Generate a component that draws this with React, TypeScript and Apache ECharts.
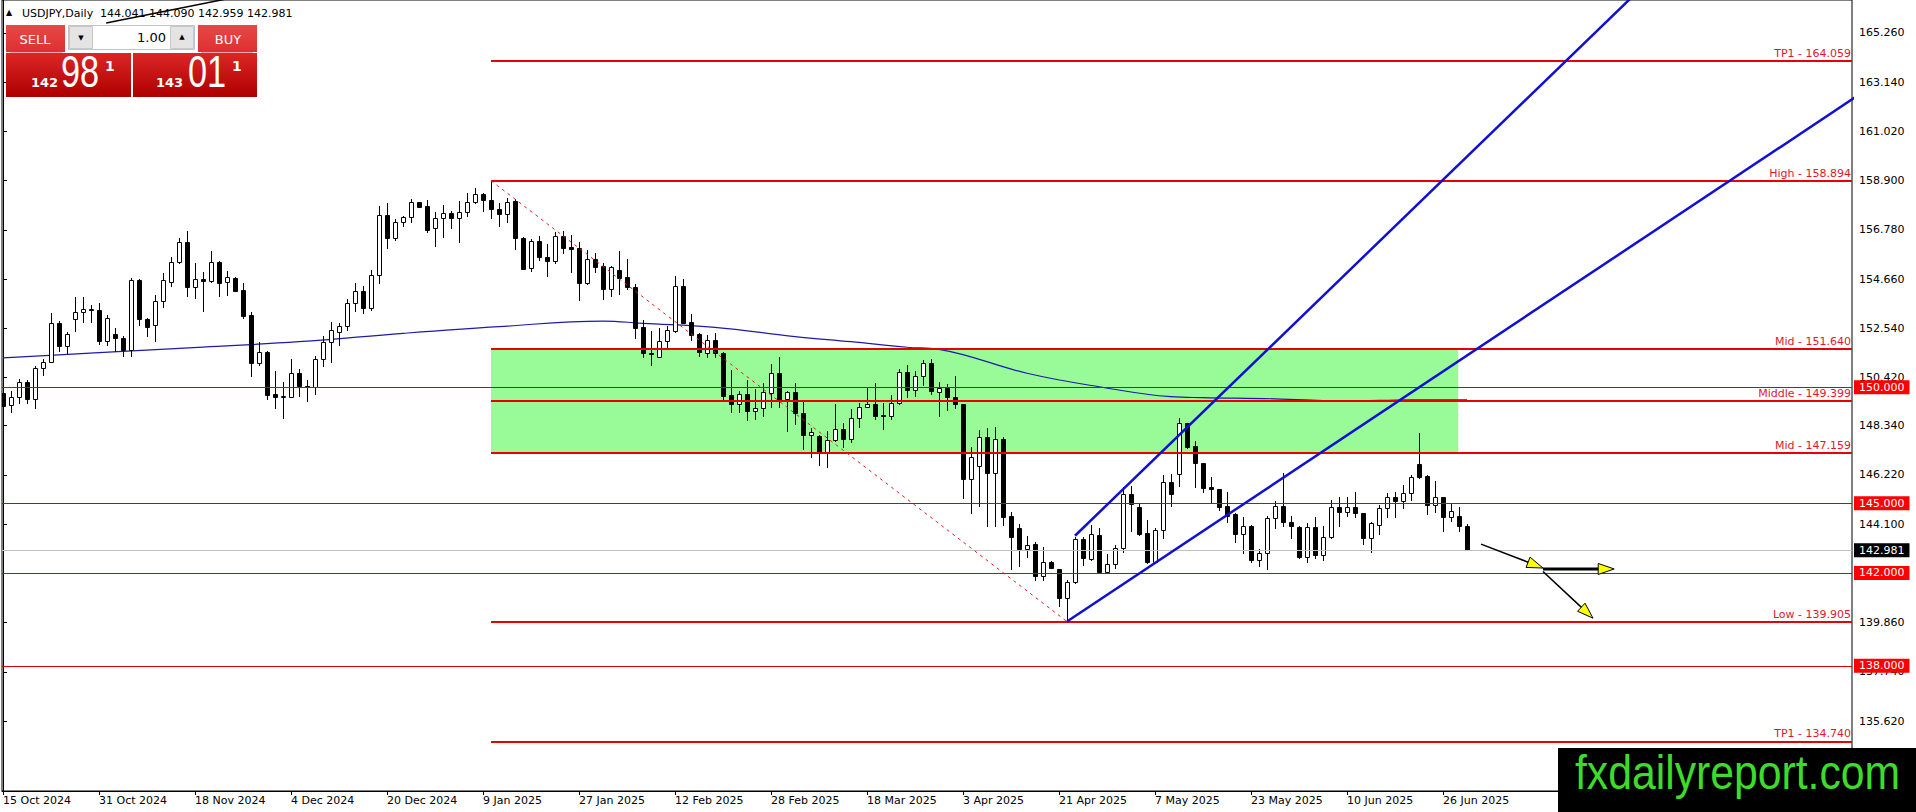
import React, { useEffect, useRef } from "react";
import * as echarts from "echarts";

const W = 1916;
const H = 812;
const GRID_LEFT = 2;
const GRID_RIGHT = 64;
const GRID_TOP = 0;
const GRID_BOTTOM = 21;
const X_MIN = -0.125;
const X_MAX = 231.125;
const Y_MIN = 132.605;
const Y_MAX = 166.68;

// x-axis date ticks (bar index -> label)
const dateTickIndex = [0, 12, 24, 36, 48, 60, 72, 84, 96, 108, 120, 132, 144, 156, 168, 180];
const dateTickLabels = [
  "15 Oct 2024", "31 Oct 2024", "18 Nov 2024", "4 Dec 2024", "20 Dec 2024", "9 Jan 2025",
  "27 Jan 2025", "12 Feb 2025", "28 Feb 2025", "18 Mar 2025", "3 Apr 2025", "21 Apr 2025",
  "7 May 2025", "23 May 2025", "10 Jun 2025", "26 Jun 2025",
];

// y-axis price ticks
const priceTicks = [135.62, 137.74, 139.86, 141.98, 144.1, 146.22, 148.34, 150.42, 152.54, 154.66, 156.78, 158.9, 161.02, 163.14, 165.26];

// Daily USDJPY candles (index 0 = 15 Oct 2024)
const opens = [
  149.76, 149.23, 149.59, 150.21, 149.48, 150.81, 151.07, 152.75, 151.79, 152.92,
  153.22, 153.33, 153.33, 152.0, 152.29, 152.11, 151.6, 154.62, 152.94, 152.68,
  153.71, 154.55, 155.41, 156.24, 154.3, 154.66, 154.59, 155.38, 154.52, 154.69,
  154.19, 153.11, 151.06, 151.53, 149.71, 149.59, 149.59, 150.6, 150.07, 150.02,
  151.2, 151.93, 152.39, 152.63, 153.61, 154.14, 153.42, 154.83, 157.42, 156.41,
  157.1, 157.32, 157.96, 157.81, 156.84, 157.27, 157.49, 157.27, 157.53, 157.99,
  158.31, 158.06, 157.66, 157.45, 158.02, 156.41, 155.12, 156.3, 155.59, 155.45,
  156.51, 156.02, 156.01, 154.47, 155.51, 155.22, 154.23, 155.05, 154.73, 154.3,
  152.58, 151.46, 151.32, 151.99, 152.43, 154.37, 152.79, 152.28, 151.46, 152.03,
  151.46, 149.66, 149.26, 149.69, 148.99, 149.09, 149.76, 150.6, 149.48, 149.78,
  148.87, 147.94, 147.9, 147.19, 147.72, 148.2, 147.75, 148.66, 149.13, 149.27,
  148.8, 148.76, 149.3, 150.64, 149.88, 150.5, 151.03, 149.78, 149.95, 149.59,
  149.28, 146.04, 146.62, 147.84, 146.29, 147.77, 144.45, 143.92, 143.01, 143.24,
  141.88, 142.45, 142.17, 140.9, 141.59, 143.46, 142.6, 143.63, 142.02, 142.37,
  143.06, 145.4, 144.85, 143.7, 142.45, 143.85, 145.9, 146.25, 148.44, 147.47,
  146.75, 145.69, 145.61, 144.88, 144.54, 143.66, 144.02, 142.55, 142.84, 144.35,
  144.88, 144.18, 143.99, 142.7, 143.99, 142.77, 143.53, 144.85, 144.61, 144.85,
  144.57, 143.49, 144.06, 144.78, 145.28, 145.11, 145.46, 146.69, 146.17, 144.92,
  145.25, 144.39, 144.45, 144.041,
];
const highs = [
  149.82, 149.85, 150.35, 150.31, 150.93, 151.21, 153.18, 152.85, 152.36, 153.87,
  153.87, 153.54, 153.61, 153.11, 152.54, 152.2, 154.69, 154.65, 152.97, 153.97,
  154.91, 155.62, 156.44, 156.73, 155.36, 154.98, 155.87, 155.44, 155.01, 154.73,
  154.47, 153.22, 151.96, 151.56, 150.71, 150.24, 151.2, 150.77, 150.31, 151.36,
  152.22, 152.82, 152.78, 153.78, 154.47, 154.36, 155.05, 157.81, 157.92, 157.25,
  157.38, 158.09, 157.99, 158.06, 157.56, 157.85, 157.61, 158.0, 158.38, 158.57,
  158.38, 158.894, 157.95, 158.14, 158.09, 156.48, 156.37, 156.53, 156.17, 156.7,
  156.73, 156.56, 156.27, 155.91, 155.77, 155.34, 155.22, 155.87, 155.52, 154.43,
  152.89, 152.42, 152.53, 152.64, 154.79, 154.65, 153.15, 152.35, 152.25, 152.32,
  151.53, 150.74, 149.85, 150.31, 149.92, 150.17, 150.99, 151.32, 149.85, 150.17,
  149.38, 148.23, 147.93, 148.11, 149.26, 148.44, 149.05, 149.3, 150.02, 150.17,
  149.3, 149.66, 150.77, 150.96, 150.71, 151.17, 151.2, 150.24, 150.14, 150.48,
  149.28, 147.44, 148.16, 148.23, 148.27, 147.87, 144.64, 144.09, 143.6, 143.31,
  143.1, 142.51, 142.17, 141.69, 143.56, 143.56, 144.06, 143.92, 142.8, 143.2,
  145.71, 145.74, 144.99, 144.28, 143.92, 146.22, 146.25, 148.66, 148.47, 147.68,
  146.75, 146.12, 145.61, 145.5, 144.57, 144.39, 144.06, 143.01, 144.45, 145.1,
  146.29, 144.46, 144.02, 144.13, 144.39, 144.02, 145.14, 145.28, 145.28, 145.47,
  144.57, 144.21, 144.92, 145.43, 145.5, 145.79, 146.22, 148.04, 146.22, 145.97,
  145.25, 144.97, 144.82, 144.09,
];
const lows = [
  148.87, 148.87, 149.27, 149.27, 149.06, 150.5, 151.03, 151.53, 151.42, 152.39,
  152.75, 152.78, 151.82, 151.79, 151.53, 151.32, 151.29, 152.64, 152.15, 151.96,
  153.4, 154.33, 155.31, 153.87, 153.8, 153.25, 154.47, 153.9, 153.94, 154.12,
  152.94, 150.45, 150.91, 149.45, 149.05, 148.62, 149.52, 149.59, 149.38, 149.66,
  150.88, 151.03, 151.79, 152.43, 153.25, 153.14, 153.3, 154.43, 155.94, 156.31,
  156.89, 157.06, 157.75, 156.66, 156.02, 156.41, 156.81, 156.23, 157.35, 157.89,
  157.56, 157.23, 156.89, 157.09, 155.91, 155.05, 154.95, 155.45, 154.76, 155.31,
  155.72, 154.93, 153.71, 154.4, 154.93, 153.76, 153.9, 153.97, 154.19, 152.08,
  151.24, 150.93, 151.24, 151.67, 152.32, 152.75, 152.0, 151.32, 151.24, 151.24,
  149.45, 148.9, 148.87, 148.56, 148.59, 148.73, 149.09, 149.09, 148.08, 148.37,
  147.29, 146.93, 146.62, 146.53, 147.65, 147.37, 147.58, 148.26, 149.09, 148.59,
  148.16, 148.59, 149.23, 149.52, 149.59, 150.06, 149.66, 148.7, 148.99, 149.06,
  145.18, 144.54, 144.82, 143.99, 143.99, 144.03, 142.12, 142.24, 142.63, 141.66,
  141.66, 142.15, 140.51, 139.905, 141.52, 142.31, 142.53, 142.02, 141.95, 142.15,
  142.87, 143.75, 143.6, 142.37, 142.41, 143.46, 144.82, 145.71, 147.34, 145.64,
  145.43, 144.97, 144.68, 144.13, 143.3, 142.81, 142.44, 142.24, 142.12, 143.88,
  143.99, 143.45, 142.58, 142.41, 142.58, 142.53, 143.45, 143.99, 144.42, 144.35,
  143.2, 142.84, 143.63, 144.35, 144.35, 144.74, 145.11, 146.03, 144.49, 144.59,
  143.78, 144.21, 143.78, 142.959,
];
const closes = [
  149.19, 149.59, 150.21, 149.49, 150.81, 151.07, 152.75, 151.79, 152.28, 153.23,
  153.35, 153.37, 152.0, 152.97, 152.11, 151.6, 154.62, 152.92, 152.61, 153.71,
  154.62, 155.41, 156.24, 154.33, 154.65, 154.59, 155.38, 154.5, 154.73, 154.16,
  153.08, 151.06, 151.53, 149.66, 149.59, 149.6, 150.6, 150.07, 150.05, 151.2,
  151.93, 152.47, 152.63, 153.61, 154.14, 153.42, 154.83, 157.42, 156.41, 157.1,
  157.32, 157.96, 157.78, 156.77, 157.27, 157.49, 157.27, 157.53, 157.99, 158.31,
  158.06, 157.66, 157.45, 157.96, 156.41, 155.09, 156.3, 155.59, 155.45, 156.51,
  156.01, 155.94, 154.47, 155.51, 155.19, 154.23, 155.16, 154.72, 154.3, 152.56,
  151.46, 151.42, 151.99, 152.46, 154.37, 152.75, 152.25, 151.5, 152.03, 151.46,
  149.63, 149.26, 149.69, 148.99, 149.09, 149.78, 150.6, 149.45, 149.78, 148.87,
  147.94, 148.05, 147.19, 147.72, 148.2, 147.75, 148.66, 149.13, 149.27, 148.77,
  148.76, 149.3, 150.64, 149.88, 150.5, 151.03, 149.85, 149.95, 149.59, 149.28,
  146.04, 147.01, 147.84, 146.29, 147.77, 144.42, 143.53, 143.01, 143.2, 141.88,
  142.45, 142.2, 140.9, 141.59, 143.46, 142.63, 143.67, 142.02, 142.37, 143.06,
  145.4, 144.97, 143.67, 142.45, 143.85, 145.9, 145.38, 148.44, 147.44, 146.72,
  145.67, 145.63, 144.85, 144.45, 143.66, 144.02, 142.55, 142.84, 144.35, 144.88,
  144.18, 144.03, 142.7, 143.99, 142.77, 143.53, 144.85, 144.61, 144.85, 144.57,
  143.49, 144.13, 144.78, 145.28, 145.11, 145.46, 146.12, 146.12, 144.92, 145.25,
  144.39, 144.66, 144.03, 142.981,
];

// moving average read at sample bars
const maIndex = [0, 12, 25, 37, 50, 62, 75, 80, 89, 99, 106, 113, 117, 128, 137, 146, 150, 159, 168, 176, 183];
const maValue = [151.26, 151.49, 151.73, 151.96, 152.32, 152.61, 152.85, 152.75, 152.58, 152.18, 151.96, 151.72, 151.63, 150.6, 150.02, 149.59, 149.55, 149.5, 149.4, 149.46, 149.45];

// Fibonacci-style levels drawn from the January high
const levelStart = 61;
const levelValues = [164.059, 158.894, 151.64, 149.399, 147.159, 139.905, 134.74];
const levelNames = ["TP1", "High", "Mid", "Middle", "Mid", "Low", "TP1"];
const roundLevels = [150, 145, 142, 138];
const lastPrice = 142.981;

// green zone
const zoneFrom = [61, 147.159];
const zoneTo = [181.9, 151.64];

// channel lines [index, price]
const channelLower = [[133, 139.905], [240, 164.43]];
const channelUpper = [[134, 143.6], [215, 170.6]];
const swingLine = [[61, 158.894], [133, 139.905]];
const topLine = [[12.9, 165.69], [28, 166.73]];

// arrows: fromX, fromY, toX, toY, shaft width
const arrowFromX = [184.75, 192.5, 192.5];
const arrowFromY = [143.24, 142.17, 142.06];
const arrowToX = [192.5, 201.4, 198.75];
const arrowToY = [142.21, 142.17, 140.05];
const arrowWidth = [1.6, 3, 1.6];

const FONT = "DejaVu Sans";
const RED_LINE = "#e60000";
const RED_TEXT = "#e0182a";

function buildOption(): any {
  const candleData = opens.map((o, i) => [i, o, highs[i], lows[i], closes[i]]);
  const maData = maIndex.map((x, k) => [x, maValue[k]]);
  const arrowData = arrowFromX.map((x, k) => [x, arrowFromY[k], arrowToX[k], arrowToY[k], arrowWidth[k]]);

  const thickLines = levelValues.map((v, k) => [
    {
      coord: [levelStart, v],
      lineStyle: { color: RED_LINE, width: 2, type: "solid" },
      label: {
        show: true,
        position: "insideEndTop",
        formatter: `${levelNames[k]} - ${v.toFixed(3)}`,
        color: RED_TEXT,
        fontFamily: FONT,
        fontSize: 11,
        distance: [1, 2],
      },
    },
    { coord: [X_MAX, v] },
  ]);

  const boxLabel = (bg: string) => ({
    show: true,
    position: "end",
    distance: 2,
    color: "#fff",
    backgroundColor: bg,
    padding: [1, 5, 0, 5],
    lineHeight: 13,
    fontFamily: FONT,
    fontSize: 11,
  });

  const thinLines = roundLevels.map((v) => ({
    yAxis: v,
    lineStyle: { color: "#d80000", width: 1, type: "solid" },
    label: { ...boxLabel("#ff0000"), formatter: v.toFixed(3) },
  }));

  const priceLine = {
    yAxis: lastPrice,
    lineStyle: { color: "#c0c0c0", width: 1, type: "solid" },
    label: { ...boxLabel("#000000"), formatter: lastPrice.toFixed(3) },
  };

  const dashed = [
    {
      coord: swingLine[0],
      lineStyle: { color: "#e02020", width: 1, type: [3, 4] },
      label: { show: false },
    },
    { coord: swingLine[1] },
  ];

  const gradRed = {
    type: "linear", x: 0, y: 0, x2: 0, y2: 1,
    colorStops: [{ offset: 0, color: "#dc2626" }, { offset: 1, color: "#ad0000" }],
  };
  const btnRed = {
    type: "linear", x: 0, y: 0, x2: 0, y2: 1,
    colorStops: [{ offset: 0, color: "#e84848" }, { offset: 1, color: "#dc3030" }],
  };

  const graphic: any[] = [
    // title
    { type: "text", x: 6, y: 12, z: 100, style: { text: "\u25B2", fill: "#000", font: `8px "${FONT}"`, verticalAlign: "middle" } },
    { type: "text", x: 22, y: 13, z: 100, style: { text: "USDJPY,Daily", fill: "#000", font: `11px "${FONT}"`, verticalAlign: "middle" } },
    { type: "text", x: 100, y: 13, z: 100, style: { text: "144.041 144.090 142.959 142.981", fill: "#000", font: `11px "${FONT}"`, verticalAlign: "middle" } },
    // trade panel
    { type: "rect", z: 100, shape: { x: 6, y: 25, width: 59, height: 27 }, style: { fill: btnRed } },
    { type: "rect", z: 100, shape: { x: 198, y: 25, width: 59, height: 27 }, style: { fill: btnRed } },
    { type: "rect", z: 100, shape: { x: 6, y: 53, width: 125, height: 44 }, style: { fill: gradRed } },
    { type: "rect", z: 100, shape: { x: 133, y: 53, width: 124, height: 44 }, style: { fill: gradRed } },
    { type: "line", z: 101, shape: { x1: 10, y1: 52.5, x2: 62, y2: 52.5 }, style: { stroke: "#f3a3a3", lineWidth: 1 } },
    { type: "line", z: 101, shape: { x1: 201, y1: 52.5, x2: 253, y2: 52.5 }, style: { stroke: "#f3a3a3", lineWidth: 1 } },
    { type: "text", x: 35, y: 39, z: 101, style: { text: "SELL", fill: "#fff", font: `13px "${FONT}"`, align: "center", verticalAlign: "middle" } },
    { type: "text", x: 228, y: 39, z: 101, style: { text: "BUY", fill: "#fff", font: `13px "${FONT}"`, align: "center", verticalAlign: "middle" } },
    { type: "rect", z: 100, shape: { x: 68.5, y: 25.5, width: 126, height: 24 }, style: { fill: "#fff", stroke: "#c4c4c4", lineWidth: 1 } },
    { type: "rect", z: 101, shape: { x: 69.5, y: 26.5, width: 23, height: 22 }, style: { fill: "#e4e4e4", stroke: "#c8c8c8", lineWidth: 1 } },
    { type: "rect", z: 101, shape: { x: 170.5, y: 26.5, width: 23, height: 22 }, style: { fill: "#e4e4e4", stroke: "#c8c8c8", lineWidth: 1 } },
    { type: "text", x: 81, y: 38, z: 102, style: { text: "\u25BC", fill: "#000", font: `7px "${FONT}"`, align: "center", verticalAlign: "middle" } },
    { type: "text", x: 182, y: 37, z: 102, style: { text: "\u25B2", fill: "#000", font: `7px "${FONT}"`, align: "center", verticalAlign: "middle" } },
    { type: "text", x: 166, y: 37, z: 102, style: { text: "1.00", fill: "#000", font: `13px "${FONT}"`, align: "right", verticalAlign: "middle" } },
    { type: "text", x: 31, y: 82, z: 101, style: { text: "142", fill: "#fff", font: `bold 13px "${FONT}"`, verticalAlign: "middle" } },
    { type: "text", x: 61, y: 71, z: 101, scaleX: 0.78, style: { text: "98", fill: "#fff", font: `44px "Liberation Sans"`, verticalAlign: "middle" } },
    { type: "text", x: 105, y: 66, z: 101, style: { text: "1", fill: "#fff", font: `bold 14px "${FONT}"`, verticalAlign: "middle" } },
    { type: "text", x: 156, y: 82, z: 101, style: { text: "143", fill: "#fff", font: `bold 13px "${FONT}"`, verticalAlign: "middle" } },
    { type: "text", x: 188, y: 71, z: 101, scaleX: 0.78, style: { text: "01", fill: "#fff", font: `44px "Liberation Sans"`, verticalAlign: "middle" } },
    { type: "text", x: 232, y: 66, z: 101, style: { text: "1", fill: "#fff", font: `bold 14px "${FONT}"`, verticalAlign: "middle" } },
    // watermark
    { type: "rect", z: 110, shape: { x: 1558, y: 748, width: 358, height: 64 }, style: { fill: "#000" } },
    { type: "text", x: 1575, y: 773, z: 111, scaleX: 0.89, style: { text: "fxdailyreport.com", fill: "#3ddc2a", font: `48px "Liberation Sans"`, verticalAlign: "middle" } },
  ];

  return {
    animation: false,
    backgroundColor: "#ffffff",
    textStyle: { fontFamily: FONT },
    grid: {
      left: GRID_LEFT, right: GRID_RIGHT, top: GRID_TOP, bottom: GRID_BOTTOM,
      show: true, borderColor: "#000", borderWidth: 1, backgroundColor: "transparent",
    },
    xAxis: {
      type: "value",
      min: X_MIN,
      max: X_MAX,
      axisLine: { show: true, lineStyle: { color: "#000", width: 1 } },
      axisTick: { show: true, customValues: dateTickIndex, length: 4, lineStyle: { color: "#000" } },
      axisLabel: {
        customValues: dateTickIndex,
        formatter: (v: number) => {
          const k = dateTickIndex.indexOf(Math.round(v));
          return k >= 0 ? dateTickLabels[k] : "";
        },
        align: "left",
        margin: 4,
        color: "#000",
        fontFamily: FONT,
        fontSize: 11,
      },
      splitLine: { show: false },
    },
    yAxis: {
      type: "value",
      position: "right",
      min: Y_MIN,
      max: Y_MAX,
      axisLine: { show: true, lineStyle: { color: "#000", width: 1 } },
      axisTick: { show: true, customValues: priceTicks, length: 4, lineStyle: { color: "#000" } },
      axisLabel: {
        customValues: priceTicks,
        formatter: (v: number) => v.toFixed(3),
        margin: 7,
        color: "#000",
        fontFamily: FONT,
        fontSize: 11,
      },
      splitLine: { show: false },
    },
    graphic,
    series: [
      {
        name: "zone",
        type: "line",
        z: 1,
        data: [zoneFrom, zoneTo],
        showSymbol: false,
        symbol: "none",
        lineStyle: { opacity: 0 },
        silent: true,
        clip: false,
        markArea: {
          silent: true,
          itemStyle: { color: "#98fb98", opacity: 1 },
          data: [[{ coord: zoneFrom }, { coord: zoneTo }]],
        },
      },
      {
        name: "MA",
        type: "line",
        z: 2,
        data: maData,
        smooth: 0.4,
        showSymbol: false,
        symbol: "none",
        lineStyle: { color: "#1c1ca8", width: 1.2 },
        silent: true,
        clip: true,
      },
      {
        name: "candles",
        type: "custom",
        z: 3,
        clip: true,
        silent: true,
        data: candleData,
        encode: { x: 0, y: [1, 2, 3, 4] },
        renderItem: (params: any, api: any) => {
          const i = api.value(0);
          const o = api.value(1);
          const h = api.value(2);
          const l = api.value(3);
          const c = api.value(4);
          const pO = api.coord([i, o]);
          const pC = api.coord([i, c]);
          const pH = api.coord([i, h]);
          const pL = api.coord([i, l]);
          const x = Math.round(pO[0]) + 0.5;
          const top = Math.round(Math.min(pO[1], pC[1])) + 0.5;
          const bot = Math.round(Math.max(pO[1], pC[1])) + 0.5;
          const bull = c >= o;
          return {
            type: "group",
            children: [
              { type: "line", shape: { x1: x, y1: Math.round(pH[1]), x2: x, y2: Math.round(pL[1]) }, style: { stroke: "#000", lineWidth: 1 } },
              { type: "rect", shape: { x: x - 2, y: top, width: 4, height: Math.max(bot - top, 1) }, style: { fill: bull ? "#fff" : "#000", stroke: "#000", lineWidth: 1 } },
            ],
          };
        },
      },
      {
        name: "levels",
        type: "line",
        z: 4,
        data: [[X_MIN, Y_MIN]],
        showSymbol: false,
        symbol: "none",
        lineStyle: { opacity: 0 },
        clip: false,
        silent: true,
        markLine: {
          silent: true,
          symbol: ["none", "none"],
          precision: 3,
          data: [...thinLines, priceLine, ...thickLines, dashed],
        },
      },
      {
        name: "channelLower",
        type: "line",
        z: 5,
        data: channelLower,
        showSymbol: false,
        symbol: "none",
        lineStyle: { color: "#1010d0", width: 2.5 },
        clip: true,
        silent: true,
      },
      {
        name: "channelUpper",
        type: "line",
        z: 5,
        data: channelUpper,
        showSymbol: false,
        symbol: "none",
        lineStyle: { color: "#1010d0", width: 2.5 },
        clip: true,
        silent: true,
      },
      {
        name: "topLine",
        type: "line",
        z: 5,
        data: topLine,
        showSymbol: false,
        symbol: "none",
        lineStyle: { color: "#000", width: 1.5 },
        clip: true,
        silent: true,
      },
      {
        name: "arrows",
        type: "custom",
        z: 6,
        silent: true,
        data: arrowData,
        encode: { x: [0, 2], y: [1, 3] },
        renderItem: (params: any, api: any) => {
          const p1 = api.coord([api.value(0), api.value(1)]);
          const p2 = api.coord([api.value(2), api.value(3)]);
          const w = api.value(4);
          const dx = p2[0] - p1[0];
          const dy = p2[1] - p1[1];
          const len = Math.hypot(dx, dy) || 1;
          const ux = dx / len;
          const uy = dy / len;
          const nx = -uy;
          const ny = ux;
          const L = 16;
          const hw = 5.5;
          const bx = p2[0] - ux * L;
          const by = p2[1] - uy * L;
          return {
            type: "group",
            children: [
              { type: "line", shape: { x1: p1[0], y1: p1[1], x2: bx + ux * 2, y2: by + uy * 2 }, style: { stroke: "#000", lineWidth: w } },
              {
                type: "polygon",
                shape: { points: [[p2[0], p2[1]], [bx + nx * hw, by + ny * hw], [bx - nx * hw, by - ny * hw]] },
                style: { fill: "#ffff00", stroke: "#000", lineWidth: 1 },
              },
            ],
          };
        },
      },
    ],
  };
}

export default function App() {
  const ref = useRef<HTMLDivElement>(null);
  useEffect(() => {
    if (!ref.current) return;
    const chart = echarts.init(ref.current, null, { renderer: "svg", width: W, height: H });
    chart.setOption(buildOption());
    return () => {
      chart.dispose();
    };
  }, []);
  return (
    <div
      ref={ref}
      style={{ position: "fixed", left: 0, top: 0, width: W, height: H, background: "#fff" }}
    />
  );
}
